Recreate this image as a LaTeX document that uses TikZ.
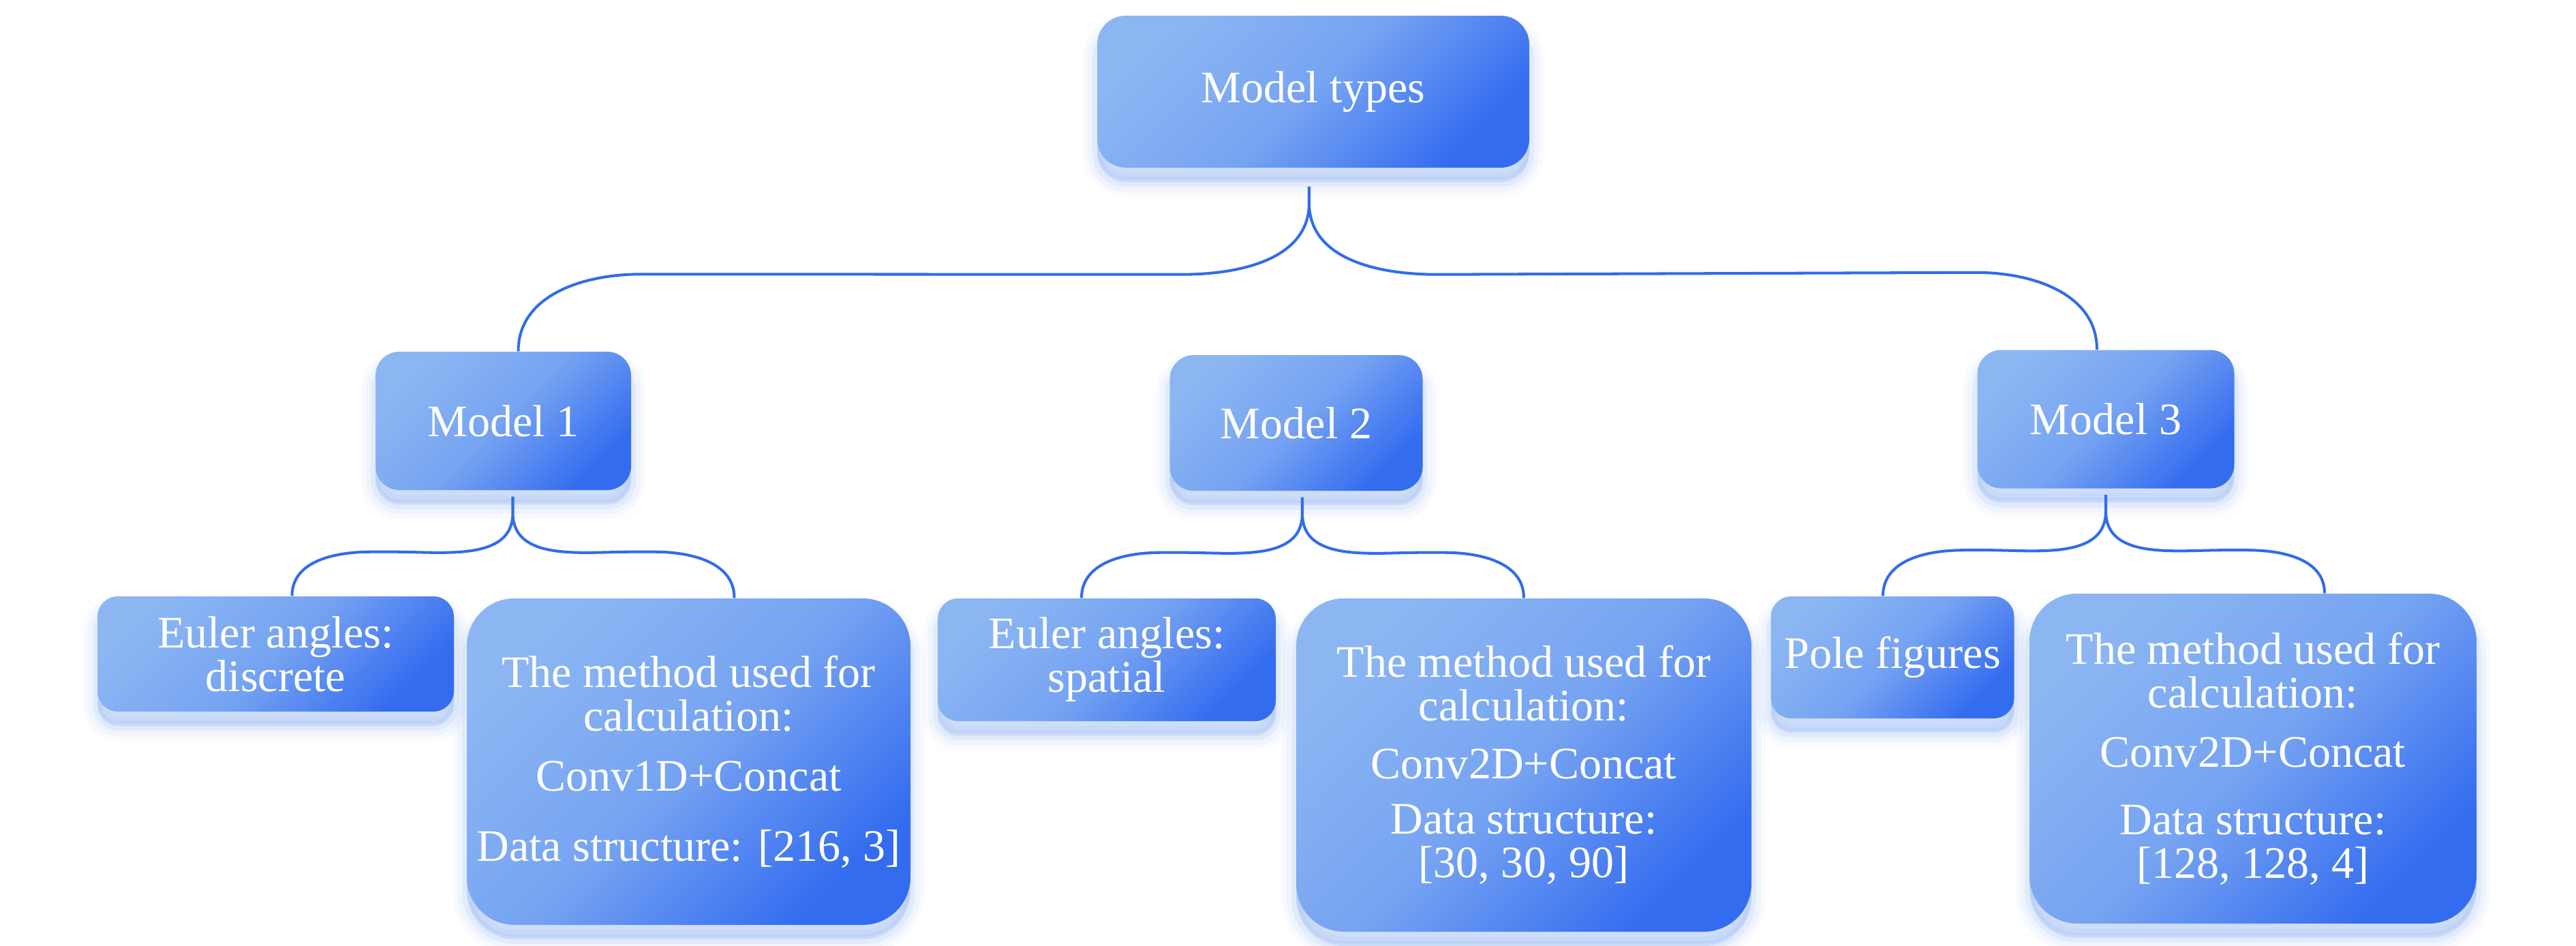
\documentclass[tikz,border=0pt]{standalone}
\usepackage{fontspec}
\setmainfont{Liberation Serif}
\usetikzlibrary{positioning, calc}

\definecolor{boxlight}{RGB}{140,182,242}
\definecolor{boxdark}{RGB}{52,108,240}
\definecolor{linkblue}{RGB}{48,108,236}
\definecolor{glow}{RGB}{100,150,240}

\tikzset{
    box/.style={
        preaction={draw=glow, line width=12pt, fill=glow, opacity=.04, transform canvas={yshift=-6pt}},
        preaction={draw=glow, line width=8pt, fill=glow, opacity=.06, transform canvas={yshift=-6pt}},
        preaction={draw=glow, line width=4pt, fill=glow, opacity=.09, transform canvas={yshift=-6pt}},
        preaction={fill=glow, opacity=.12, transform canvas={yshift=-5pt}},
        top color=boxlight, bottom color=boxdark, middle color=boxlight!75!boxdark, shading angle=45,
        text=white, align=center, inner sep=0pt, font=\fontsize{18.8}{18.2}\selectfont},
    topbox/.style={box, minimum width=6.34cm, minimum height=2.23cm, rounded corners=.42cm},
    modelbox/.style={box, minimum height=2.03cm, rounded corners=.35cm},
    inputbox/.style={box, rounded corners=.3cm},
    methodbox/.style={box, rounded corners=.7cm},
    conn/.style={draw=linkblue, line width=1.15pt}
}

\begin{document}
\begin{tikzpicture}
    \useasboundingbox[fill=white] (0,0) rectangle (37.8,-13.88);

    % --- Root ---
    \node (mt) [topbox] at (19.27,-1.345) {Model types};

    % --- Models ---
    \node (m1) [modelbox, minimum width=3.75cm] at (7.385,-6.175) {Model 1};
    \node (m2) [modelbox, minimum width=3.71cm, minimum height=1.99cm] at (19.02,-6.205) {Model 2};
    \node (m3) [modelbox, minimum width=3.77cm] at (30.9,-6.15) {Model 3};

    % --- Inputs ---
    \node (e1) [inputbox, minimum width=5.23cm, minimum height=1.69cm] at (4.045,-9.595) {Euler angles:\\ discrete};
    \node (e2) [inputbox, minimum width=4.96cm, minimum height=1.8cm] at (16.24,-9.68) {Euler angles:\\ spatial};
    \node (e3) [inputbox, minimum width=3.57cm, minimum height=1.79cm] at (27.77,-9.645) {Pole figures};

    % --- Methods ---
    \node (c1) [methodbox, minimum width=6.51cm, minimum height=4.79cm] at (10.105,-11.175)
        {The method used for\\ calculation:\\[7pt] Conv1D+Concat\\[11pt] Data structure: [216, 3]};
    \node (c2) [methodbox, minimum width=6.68cm, minimum height=4.89cm] at (22.36,-11.225)
        {The method used for\\ calculation:\\[6pt] Conv2D+Concat\\[5pt] Data structure:\\ {[30, 30, 90]}};
    \node (c3) [methodbox, minimum width=6.56cm, minimum height=4.84cm] at (33.06,-11.13)
        {The method used for\\ calculation:\\[6.5pt] Conv2D+Concat\\[10pt] Data structure:\\ {[128, 128, 4]}};

    % --- Root -> models ---
    \draw[conn] ([xshift=-.06cm,yshift=-.27cm]mt.south) -- ++(0,-.24) coordinate (s0)
        to[out=-90,in=0] ++(-1.87,-1.05) -- ($([xshift=.22cm]m1.north)+(1.8,1.13)$)
        to[out=180,in=90] ([xshift=.22cm]m1.north)
        (s0) to[out=-90,in=180] ++(1.87,-1.05) -- ($([xshift=-.13cm]m3.north)+(-1.77,1.13)$)
        to[out=0,in=90] ([xshift=-.13cm]m3.north);

    % --- Model 1 -> inputs, method ---
    \draw[conn] ([xshift=.14cm,yshift=-.09cm]m1.south) -- ++(0,-.24) coordinate (s1)
        to[out=-90,in=0] ++(-1.73,-.57) -- ++(-.35,0) to[out=180,in=90] ([xshift=.24cm]e1.north)
        (s1) to[out=-90,in=180] ++(1.73,-.57) -- ++(.35,0) to[out=0,in=90] ([xshift=.67cm]c1.north);

    % --- Model 2 -> inputs, method ---
    \draw[conn] ([xshift=.09cm,yshift=-.09cm]m2.south) -- ++(0,-.24) coordinate (s2)
        to[out=-90,in=0] ++(-1.73,-.57) -- ++(-.35,0) to[out=180,in=90] ([xshift=-.37cm]e2.north)
        (s2) to[out=-90,in=180] ++(1.73,-.57) -- ++(.35,0) to[out=0,in=90] (c2.north);

    % --- Model 3 -> inputs, method ---
    \draw[conn] ([yshift=-.09cm]m3.south) -- ++(0,-.24) coordinate (s3)
        to[out=-90,in=0] ++(-1.73,-.57) -- ++(-.35,0) to[out=180,in=90] ([xshift=-.14cm]e3.north)
        (s3) to[out=-90,in=180] ++(1.73,-.57) -- ++(.35,0) to[out=0,in=90] ([xshift=1.05cm]c3.north);
\end{tikzpicture}
\end{document}
